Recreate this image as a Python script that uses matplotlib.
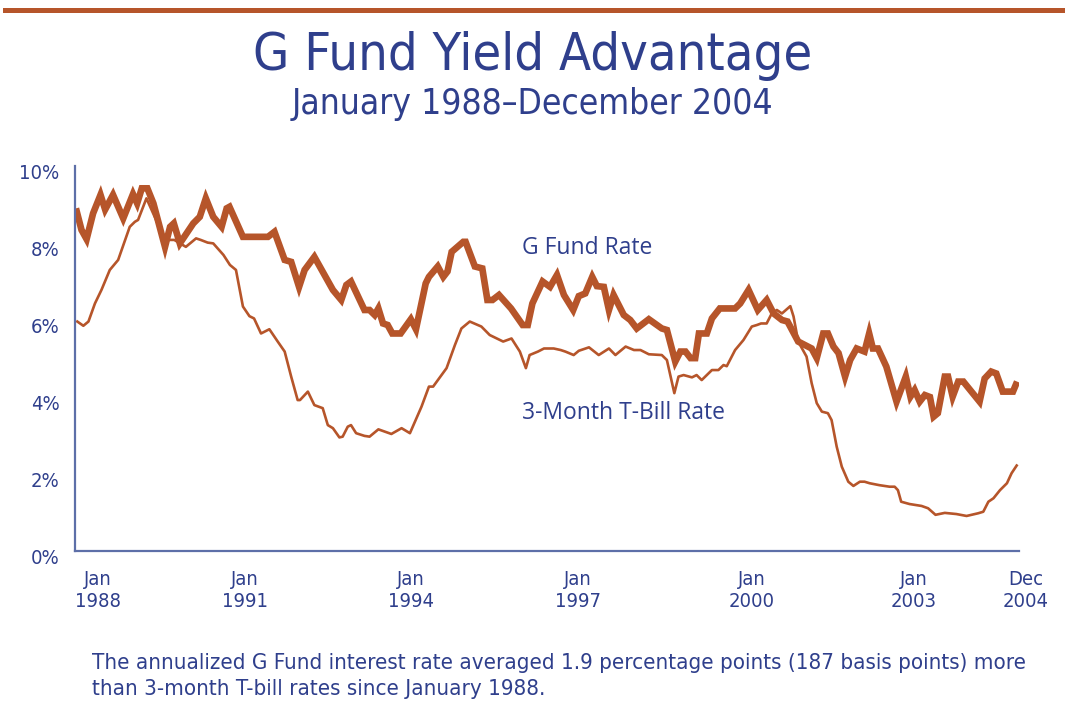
import matplotlib
matplotlib.use("Agg")
import matplotlib.pyplot as plt
from matplotlib.lines import Line2D
from matplotlib import font_manager
from matplotlib.transforms import ScaledTranslation

# ---- data (month offset from Jan 1988, rate in %) ----
gfund_month = [0, 1.2, 2.3, 3.7, 5.3, 6.3, 8.0, 10.2, 12.3, 13.2, 14.2, 15.4, 16.7,
               19.2, 20.3, 21.1, 22.4, 25.3, 26.7, 28.0, 29.6, 31.4, 32.5, 33.1,
               36.0, 41.4, 42.8, 45.0, 46.4, 48.1, 49.3, 51.4, 55.4, 57.2, 58.3,
               59.3, 62.2, 63.3, 64.4, 65.2, 66.2, 67.2, 68.2, 70.0, 72.2, 73.3,
               75.4, 76.1, 78.0, 79.2, 80.1, 81.0, 83.5, 84.0, 86.0, 87.6, 88.7,
               89.8, 91.2, 93.8, 96.3, 97.4, 98.4, 100.6, 102.2, 103.7, 105.2,
               107.2, 108.4, 109.8, 111.3, 112.3, 113.8, 114.9, 115.9, 118.1,
               119.5, 120.9, 123.5, 126.3, 127.4, 129.2, 130.3, 131.4, 132.5,
               133.5, 134.3, 136.0, 137.1, 138.8, 142.1, 143.2, 145.0, 147.0,
               148.9, 150.4, 152.2, 153.4, 155.7, 158.6, 159.7, 161.1, 162.1,
               163.3, 164.4, 165.8, 166.9, 168.3, 170.0, 171.0, 171.8, 172.9,
               174.7, 176.9, 178.9, 179.9, 180.8, 181.9, 183.0, 184.1, 184.9,
               185.8, 187.3, 188.0, 189.0, 190.2, 191.3, 194.8, 195.9, 197.3,
               198.4, 199.8, 202.0, 202.9]
gfund_rate = [8.90, 8.34, 8.10, 8.77, 9.25, 8.87, 9.25, 8.64, 9.27, 9.03, 9.42, 9.42, 9.03,
              7.90, 8.42, 8.51, 7.99, 8.51, 8.68, 9.16, 8.68, 8.42, 8.90, 8.94,
              8.16, 8.16, 8.29, 7.56, 7.51, 6.86, 7.30, 7.64, 6.78, 6.52, 6.91,
              7.00, 6.26, 6.26, 6.13, 6.30, 5.91, 5.87, 5.65, 5.65, 6.02, 5.76,
              6.95, 7.12, 7.39, 7.12, 7.26, 7.77, 8.03, 8.03, 7.39, 7.34, 6.52,
              6.52, 6.65, 6.30, 5.87, 5.87, 6.43, 7.00, 6.86, 7.17, 6.65,
              6.26, 6.62, 6.69, 7.12, 6.88, 6.86, 6.26, 6.65, 6.13,
              6.00, 5.78, 6.02, 5.78, 5.74, 4.92, 5.18, 5.18, 5.01,
              5.01, 5.65, 5.65, 6.04, 6.30, 6.30, 6.43, 6.78, 6.26,
              6.52, 6.17, 6.00, 5.96, 5.44, 5.26, 5.01, 5.65, 5.65,
              5.31, 5.14, 4.53, 4.96, 5.26, 5.18, 5.65, 5.26, 5.26,
              4.79, 3.88, 4.53, 4.01, 4.18, 3.88, 4.05, 4.00, 3.49,
              3.58, 4.53, 4.53, 4.01, 4.40, 4.40, 3.88, 4.48, 4.66,
              4.61, 4.14, 4.14, 4.40]

tbill_month = [0.3, 1.6, 2.7, 4.1, 5.5, 7.3, 9.1, 10.6, 11.6, 12.7, 13.4, 15.2, 19.2,
               21.2, 23.7, 25.9, 26.9, 28.4, 29.6, 31.8, 33.2, 34.5, 36.0, 37.4,
               38.4, 39.9, 41.7, 43.5, 45.0, 46.4, 47.8, 48.3, 50.0, 51.4, 53.2,
               54.3, 55.4, 56.8, 57.5, 58.6, 59.3, 60.4, 62.2, 63.3, 65.2, 68.0,
               70.2, 72.0, 74.5, 76.1, 77.0, 79.9, 81.7, 83.1, 84.9, 87.4, 89.2,
               92.1, 93.9, 95.7, 97.0, 97.8, 99.6, 100.9, 103.0, 104.5, 105.5,
               107.3, 108.4, 110.6, 112.7, 114.9, 116.3, 118.5, 120.3, 121.7,
               123.5, 126.3, 127.4, 129.0, 129.9, 131.0, 132.8, 133.8, 134.9,
               137.1, 138.5, 139.6, 140.3, 142.1, 143.9, 145.7, 146.8, 147.7,
               148.9, 150.0, 151.1, 152.2, 154.0, 154.7, 155.7, 157.5, 158.6,
               159.7, 160.8, 162.1, 162.9, 164.0, 165.1, 166.5, 167.6, 169.0,
               170.0, 171.1, 173.2, 175.4, 176.5, 177.2, 177.9, 179.7, 182.3,
               183.7, 185.3, 187.3, 189.8, 192.0, 194.5, 195.6, 196.7, 197.8,
               199.2, 200.7, 201.7, 202.8]
tbill_rate = [5.96, 5.85, 5.96, 6.43, 6.78, 7.30, 7.56, 8.08, 8.42, 8.55, 8.60, 9.16, 8.08,
              8.08, 7.90, 8.12, 8.08, 8.01, 7.99, 7.69, 7.43, 7.30, 6.35, 6.10,
              6.04, 5.65, 5.76, 5.44, 5.18, 4.53, 3.92, 3.92, 4.14, 3.79, 3.71,
              3.27, 3.19, 2.95, 2.97, 3.23, 3.27, 3.06, 2.99, 2.97, 3.16, 3.04,
              3.19, 3.06, 3.75, 4.27, 4.27, 4.75, 5.35, 5.78, 5.96, 5.83, 5.61,
              5.44, 5.52, 5.18, 4.75, 5.09, 5.18, 5.26, 5.26, 5.22, 5.18,
              5.09, 5.20, 5.29, 5.09, 5.26, 5.09, 5.31, 5.22, 5.22,
              5.11, 5.09, 4.96, 4.10, 4.53, 4.57, 4.51, 4.57, 4.44,
              4.70, 4.70, 4.83, 4.80, 5.22, 5.48, 5.83, 5.87, 5.91,
              5.91, 6.17, 6.26, 6.17, 6.36, 6.09, 5.44, 5.05, 4.36,
              3.84, 3.62, 3.58, 3.40, 2.71, 2.19, 1.80, 1.69, 1.80,
              1.80, 1.76, 1.71, 1.67, 1.67, 1.58, 1.28, 1.22, 1.17,
              1.11, 0.94, 0.99, 0.96, 0.91, 0.98, 1.02, 1.28, 1.37,
              1.58, 1.76, 2.02, 2.22]

xtick_month = [0, 36, 72, 108, 144, 180, 203]
xtick_labels = ["Jan\n1988", "Jan\n1991", "Jan\n1994", "Jan\n1997", "Jan\n2000", "Jan\n2003", "Dec\n2004"]
ytick_vals = [0, 2, 4, 6, 8, 10]
ytick_labels = ["0%", "2%", "4%", "6%", "8%", "10%"]

title = "G Fund Yield Advantage"
subtitle = "January 1988\u2013December 2004"
footnote = ("The annualized G Fund interest rate averaged 1.9 percentage points (187 basis points) more\n"
            "than 3-month T-bill rates since January 1988.")

LINE = "#b6552a"
BLUE = "#2f3f8c"
AXIS = "#5d6fa8"

# pick the narrowest available face for the condensed text
_names = {f.name for f in font_manager.fontManager.ttflist}
_dv_cond = any(f.name == "DejaVu Sans" and "ondensed" in f.fname for f in font_manager.fontManager.ttflist)
if "Liberation Sans Narrow" in _names:
    NARROW = dict(family=["Liberation Sans Narrow", "DejaVu Sans"])
elif _dv_cond:
    NARROW = dict(family=["DejaVu Sans"], fontstretch="condensed")
else:
    NARROW = dict(family=["Roboto", "DejaVu Sans"])
SANS = ["Open Sans", "DejaVu Sans"]

fig = plt.figure(figsize=(10.65, 7.06), dpi=100)
ax = fig.add_axes([75 / 1065, 1 - 551 / 706, (1019 - 75) / 1065, (551 - 166) / 706])

ax.plot(gfund_month, gfund_rate, color=LINE, lw=4.8, solid_joinstyle="miter", solid_capstyle="butt")
ax.plot(tbill_month, tbill_rate, color=LINE, lw=1.9, solid_joinstyle="round")

ax.set_xlim(-0.2, 203.3)
ax.set_ylim(0, 10)
for s in ["top", "right"]:
    ax.spines[s].set_visible(False)
for s in ["left", "bottom"]:
    ax.spines[s].set_color(AXIS)
    ax.spines[s].set_linewidth(1.6)

ax.set_yticks(ytick_vals)
ax.set_yticklabels(ytick_labels, fontsize=14.5, color=BLUE, **NARROW)
ax.tick_params(axis="y", length=0, pad=11)
ax.set_xticks(xtick_month)
ax.set_xticklabels(xtick_labels, fontsize=14.5, color=BLUE, linespacing=1.2, **NARROW)
ax.tick_params(axis="x", length=0, pad=14)
for lbl in ax.get_yticklabels():
    lbl.set_verticalalignment("top")
    lbl.set_transform(lbl.get_transform() + ScaledTranslation(0, 2 / 100, fig.dpi_scale_trans))
x_shift_px = [22, 2, 1, 1, 8, 3, 8]
for lbl, dx in zip(ax.get_xticklabels(), x_shift_px):
    lbl.set_transform(lbl.get_transform() + ScaledTranslation(dx / 100, 0, fig.dpi_scale_trans))

ax.text(0.474, 0.788, "G Fund Rate", transform=ax.transAxes, family=SANS, fontsize=16.5,
        color=BLUE, ha="left", va="center")
ax.text(0.474, 0.358, "3-Month T-Bill Rate", transform=ax.transAxes, family=SANS, fontsize=16.5,
        color=BLUE, ha="left", va="center")

# top rule
fig.add_artist(Line2D([5 / 1065, 1.0], [1 - 9.5 / 706, 1 - 9.5 / 706], color=LINE, lw=3.6,
                      transform=fig.transFigure))

fig.text(0.5, 1 - 56 / 706, title, fontsize=37.5, color=BLUE, ha="center", va="center", **NARROW)
fig.text(0.5, 1 - 104 / 706, subtitle, fontsize=25.4, color=BLUE, ha="center", va="center", **NARROW)
fig.text(92 / 1065, 1 - 676 / 706, footnote, fontsize=16, color=BLUE,
         ha="left", va="center", linespacing=1.4, **NARROW)

fig.savefig("out.png", dpi=100)
